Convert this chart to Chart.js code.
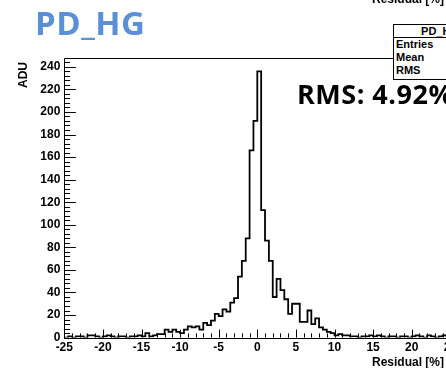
<!DOCTYPE html>
<html><head><meta charset="utf-8">
<script src="https://cdn.jsdelivr.net/npm/chart.js@4/dist/chart.umd.min.js"></script>
<style>
html,body{margin:0;padding:0;background:#fff;}
#wrap{position:relative;width:446px;height:368px;overflow:hidden;background:#fff;}
#c{position:absolute;left:0;top:0;}
.t{position:absolute;white-space:nowrap;line-height:1;}
#title{left:35px;top:0px;font:bold 33px "Open Sans",sans-serif;letter-spacing:0.5px;color:#5b8fd6;}
#rms{left:297px;top:75px;font:bold 27px "Open Sans",sans-serif;letter-spacing:0.5px;color:#000;}
.ax{font:bold 12px "Liberation Sans",Arial,sans-serif;color:#000;}
#topax{right:2px;top:-8px;}
#botax{right:2px;top:355px;}
#adu{left:9px;top:69px;width:26px;height:12px;line-height:12px;text-align:center;transform:rotate(-90deg);font:bold 12px "Liberation Sans",Arial,sans-serif;color:#000;}
#stats{position:absolute;left:393px;top:24px;width:94px;height:56px;border:1px solid #000;background:#fff;box-sizing:border-box;font:bold 11px "Liberation Sans",Arial,sans-serif;color:#000;}
#stats .h{height:12px;border-bottom:1px solid #000;text-align:center;line-height:12px;}
#stats .r{height:13px;line-height:13px;padding-left:2px;}
</style>
</head><body>
<div id="wrap">
<canvas id="c" width="460" height="368" style="width:460px;height:368px"></canvas>
<div class="t" id="title">PD_HG</div>
<div class="t" id="rms">RMS: 4.92%</div>
<div class="t ax" id="topax">Residual [%]</div>
<div class="t ax" id="botax">Residual [%]</div>
<div class="t" id="adu">ADU</div>
<div id="stats"><div class="h">PD_HG</div><div class="r">Entries</div><div class="r">Mean</div><div class="r">RMS</div></div>
</div>
<script>
// Histogram: 100 bins of width 0.5 from -25 to 25
const X_MIN = -25, X_MAX = 25, BIN_WIDTH = 0.5;
const counts = [
  0,1,0,1,1,0,2,2,1,0,      // -25 .. -20.5
  1,2,1,0,1,1,0,1,1,2,      // -20 .. -15.5
  1,4,1,2,3,3,7,5,7,5,      // -15 .. -10.5
  4,7,10,9,10,7,13,11,15,21,// -10 .. -5.5
  19,25,23,31,35,54,68,88,166,192, // -5 .. -0.5
  236,113,86,68,36,52,42,34,21,30, // 0 .. 4.5
  30,14,14,24,12,17,9,7,5,4,       // 5 .. 9.5
  2,3,2,2,1,1,0,1,1,2,             // 10 .. 14.5
  1,2,1,0,1,1,0,1,1,0,             // 15 .. 19.5
  1,2,1,0,2,1,0,1,2,1              // 20 .. 24.5
];
const xTickLabels = ['-25','-20','-15','-10','-5','0','5','10','15','20','25'];
const yTicks = [0,20,40,60,80,100,120,140,160,180,200,220,240];
const Y_MAX = 247.8;

const histPoints = counts.map((v,i)=>({x: X_MIN + i*BIN_WIDTH, y: v}));
histPoints.push({x: X_MAX, y: counts[counts.length-1]});

const FONT = '"Liberation Sans", Arial, sans-serif';

const rootFrame = {
  id: 'rootFrame',
  afterDatasetsDraw(chart){
    const ctx = chart.ctx, a = chart.chartArea;
    const xs = chart.scales.x, ys = chart.scales.y;
    ctx.save();
    ctx.strokeStyle = '#000';
    ctx.lineWidth = 1;
    ctx.beginPath();
    ctx.rect(Math.round(a.left)+0.5, Math.round(a.top)+0.5, Math.round(a.right-a.left), Math.round(a.bottom-a.top));
    ctx.stroke();
    ctx.beginPath();
    for (let v = 0; v <= Y_MAX; v += 4) {
      const p = Math.round(ys.getPixelForValue(v)) + 0.5;
      const len = (v % 20 === 0) ? 11.5 : 5.8;
      ctx.moveTo(a.left, p); ctx.lineTo(a.left + len, p);
    }
    for (let v = X_MIN; v <= X_MAX; v += 1) {
      const p = Math.round(xs.getPixelForValue(v)) + 0.5;
      const len = (v % 5 === 0) ? 8 : 4.2;
      ctx.moveTo(p, a.bottom); ctx.lineTo(p, a.bottom - len);
    }
    ctx.stroke();
    ctx.restore();
  }
};

new Chart(document.getElementById('c'), {
  type: 'line',
  data: { datasets: [{
    data: histPoints,
    stepped: true,
    borderColor: '#000',
    borderWidth: 1.8,
    pointRadius: 0,
    fill: false,
    tension: 0
  }]},
  options: {
    responsive: false,
    animation: false,
    devicePixelRatio: 1,
    layout: { padding: { left: 0, top: 58, right: 9.7, bottom: 0 } },
    plugins: { legend: { display: false }, tooltip: { enabled: false }, title: { display: false } },
    scales: {
      x: {
        type: 'linear', min: X_MIN, max: X_MAX,
        grid: { display: false, drawTicks: false },
        border: { display: false },
        afterFit(s){ s.height = 30.4; },
        afterBuildTicks(s){ s.ticks = xTickLabels.map(t => ({value: Number(t)})); },
        ticks: { padding: 3, color: '#000', font: { family: FONT, weight: 'bold', size: 12 }, maxRotation: 0, autoSkip: false,
                 callback: (v) => String(v) },
        title: { display: false }
      },
      y: {
        type: 'linear', min: 0, max: Y_MAX,
        grid: { display: false, drawTicks: false },
        border: { display: false },
        afterFit(s){ s.width = 64.3; },
        afterBuildTicks(s){ s.ticks = yTicks.map(v => ({value: v})); },
        ticks: { padding: 4, color: '#000', font: { family: FONT, weight: 'bold', size: 12 }, autoSkip: false },
        title: { display: false }
      }
    }
  },
  plugins: [rootFrame]
});
</script>
</body></html>
